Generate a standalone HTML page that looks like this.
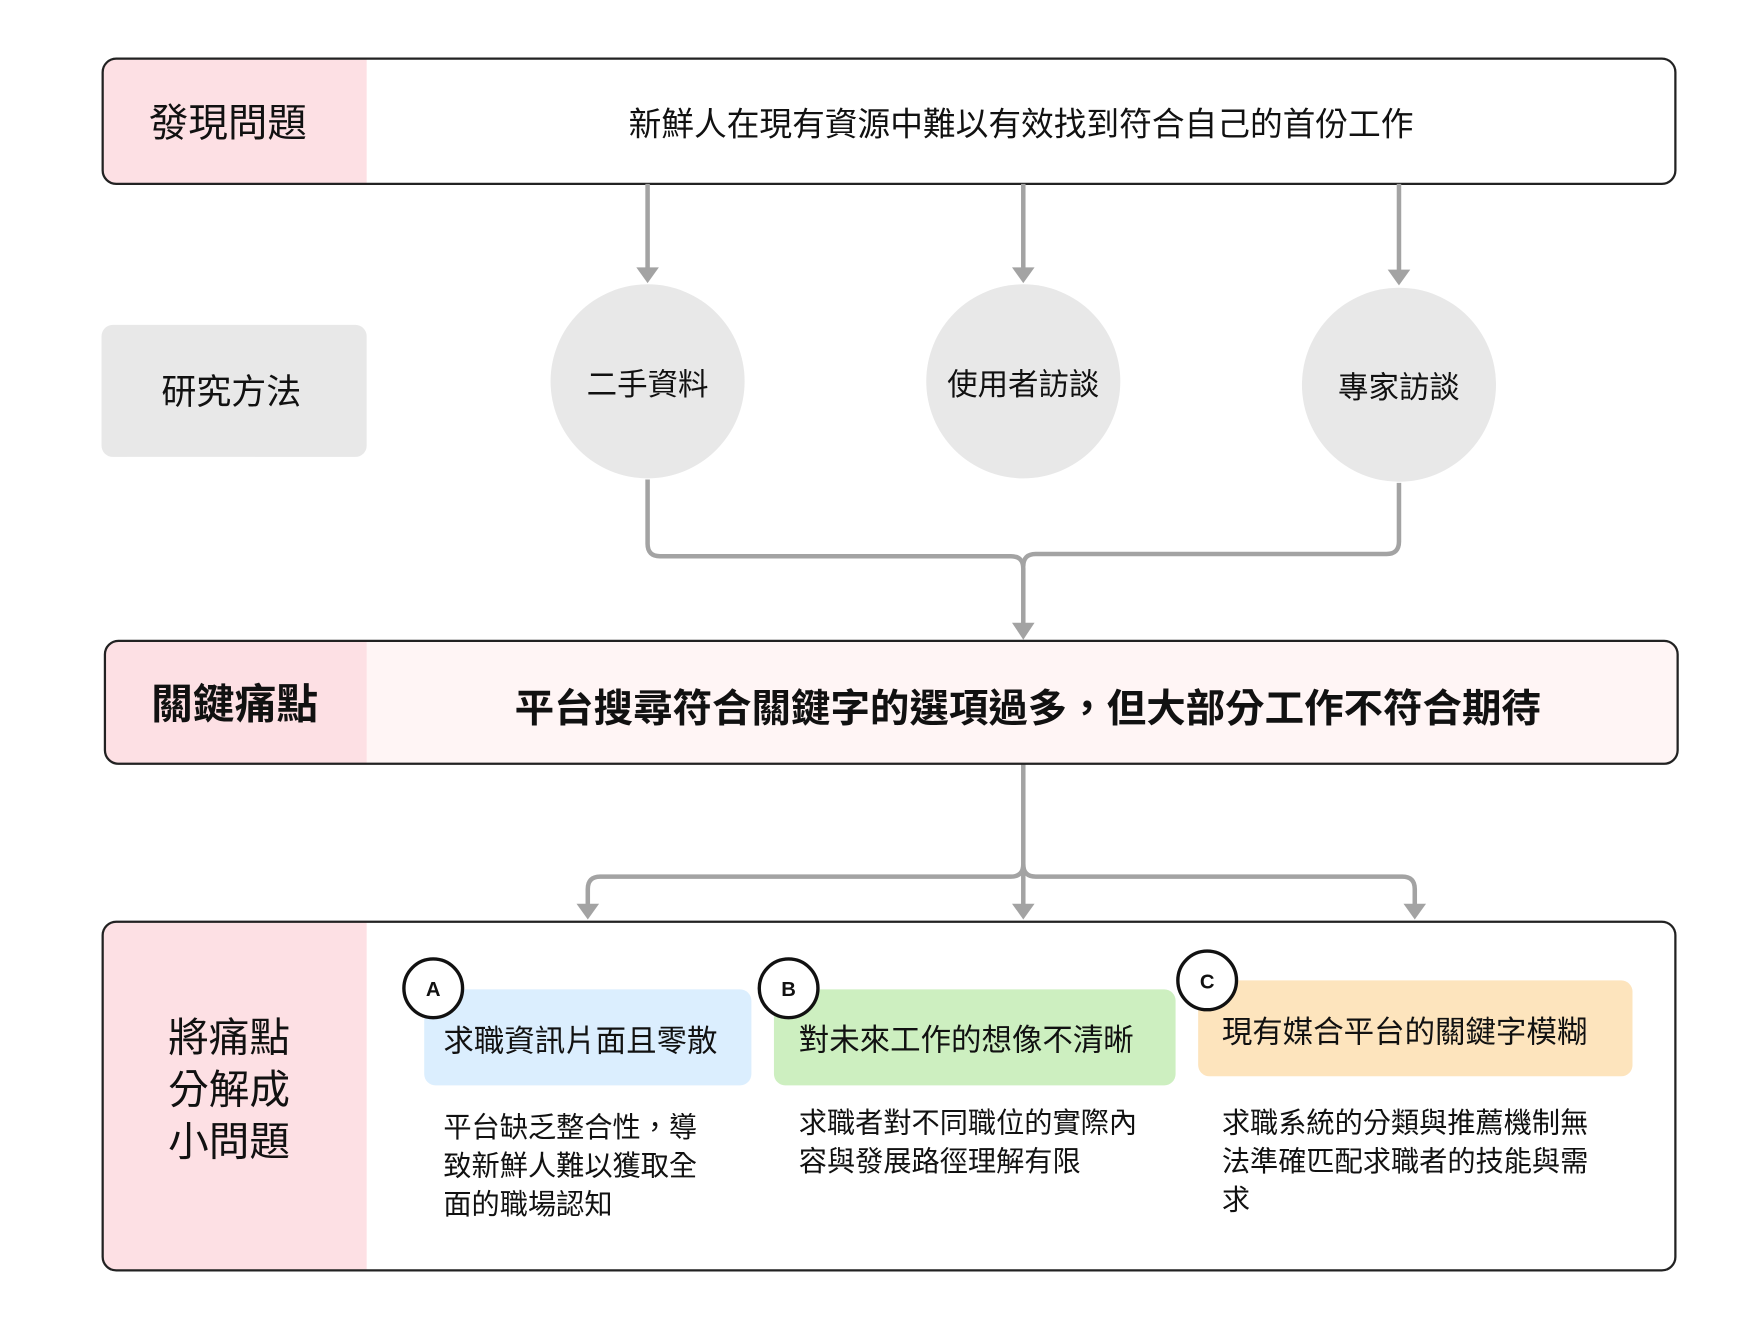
<!DOCTYPE html>
<html><head><meta charset="utf-8"><style>
html,body{margin:0;padding:0;background:#fff;}
svg{display:block;}
text{font-family:"Liberation Sans","Noto Sans CJK TC",sans-serif;fill:#111;}
</style></head><body>
<svg width="1760" height="1320" viewBox="0 0 1560 1170" xmlns="http://www.w3.org/2000/svg">
<rect width="1560" height="1170" fill="#fff"/>
<defs>
<clipPath id="c1"><rect x="91" y="52" width="1394" height="111" rx="12"/></clipPath>
<clipPath id="c2"><rect x="93" y="568" width="1394" height="109" rx="12"/></clipPath>
<clipPath id="c3"><rect x="91" y="817" width="1394" height="309" rx="12"/></clipPath>
</defs>
<!-- top box -->
<rect x="91" y="52" width="1394" height="111" rx="12" fill="#fff"/>
<rect x="91" y="52" width="234" height="111" fill="#fde0e4" clip-path="url(#c1)"/>
<rect x="91" y="52" width="1394" height="111" rx="12" fill="none" stroke="#222" stroke-width="2"/>
<text x="202" y="121" font-size="35" text-anchor="middle">發現問題</text>
<text x="905" y="120" font-size="29" text-anchor="middle">新鮮人在現有資源中難以有效找到符合自己的首份工作</text>

<!-- arrows down -->
<g stroke="#a3a3a3" stroke-width="4" fill="none">
<line x1="574" y1="163" x2="574" y2="240"/>
<line x1="907" y1="163" x2="907" y2="240"/>
<line x1="1240" y1="163" x2="1240" y2="242"/>
<path d="M574 425 V482 Q574 493 585 493 H896 Q907 493 907 504 V553"/>
<path d="M1240 428 V480 Q1240 491 1229 491 H918 Q907 491 907 502"/>
<path d="M907 677 V766 Q907 777 896 777 H532 Q521 777 521 788 V803"/>
<path d="M907 766 Q907 777 918 777 H1243 Q1254 777 1254 788 V803"/>
<line x1="907" y1="766" x2="907" y2="803"/>
</g>
<g fill="#a3a3a3">
<polygon points="564,237 584,237 574,251"/>
<polygon points="897,237 917,237 907,251"/>
<polygon points="1230,239 1250,239 1240,253"/>
<polygon points="897,552 917,552 907,567"/>
<polygon points="511,801 531,801 521,815"/>
<polygon points="897,801 917,801 907,815"/>
<polygon points="1244,801 1264,801 1254,815"/>
</g>

<!-- research -->
<rect x="90" y="288" width="235" height="117" rx="10" fill="#e8e8e8"/>
<text x="205" y="358" font-size="31" text-anchor="middle">研究方法</text>
<circle cx="574" cy="338" r="86" fill="#e8e8e8"/>
<circle cx="907" cy="338" r="86" fill="#e8e8e8"/>
<circle cx="1240" cy="341" r="86" fill="#e8e8e8"/>
<text x="574" y="350" font-size="27" text-anchor="middle">二手資料</text>
<text x="907" y="350" font-size="27" text-anchor="middle">使用者訪談</text>
<text x="1240" y="353" font-size="27" text-anchor="middle">專家訪談</text>

<!-- key pain -->
<rect x="93" y="568" width="1394" height="109" rx="12" fill="#fff5f5"/>
<rect x="93" y="568" width="232" height="109" fill="#fde0e4" clip-path="url(#c2)"/>
<rect x="93" y="568" width="1394" height="109" rx="12" fill="none" stroke="#222" stroke-width="2"/>
<text x="208" y="637" font-size="37" font-weight="bold" text-anchor="middle">關鍵痛點</text>
<text x="911" y="640" font-size="35" font-weight="bold" text-anchor="middle">平台搜尋符合關鍵字的選項過多，但大部分工作不符合期待</text>

<!-- bottom -->
<rect x="91" y="817" width="1394" height="309" rx="12" fill="#fff"/>
<rect x="91" y="817" width="234" height="309" fill="#fde0e4" clip-path="url(#c3)"/>
<rect x="91" y="817" width="1394" height="309" rx="12" fill="none" stroke="#222" stroke-width="2"/>
<text x="203" y="932" font-size="36" text-anchor="middle">將痛點</text>
<text x="203" y="978" font-size="36" text-anchor="middle">分解成</text>
<text x="203" y="1024" font-size="36" text-anchor="middle">小問題</text>

<rect x="376" y="877" width="290" height="85" rx="10" fill="#dbeefe"/>
<rect x="686" y="877" width="356" height="85" rx="10" fill="#cdefc0"/>
<rect x="1062" y="869" width="385" height="85" rx="10" fill="#fde4bd"/>
<text x="393" y="932" font-size="27">求職資訊片面且零散</text>
<text x="708" y="931" font-size="27">對未來工作的想像不清晰</text>
<text x="1083" y="924" font-size="27">現有媒合平台的關鍵字模糊</text>

<circle cx="384" cy="876" r="26" fill="#fff" stroke="#111" stroke-width="3"/>
<circle cx="699" cy="876" r="26" fill="#fff" stroke="#111" stroke-width="3"/>
<circle cx="1070" cy="869" r="26" fill="#fff" stroke="#111" stroke-width="3"/>
<text x="384" y="883" font-size="18" font-weight="bold" text-anchor="middle">A</text>
<text x="699" y="883" font-size="18" font-weight="bold" text-anchor="middle">B</text>
<text x="1070" y="876" font-size="18" font-weight="bold" text-anchor="middle">C</text>

<g font-size="25">
<text x="393" y="1008">平台缺乏整合性，導</text>
<text x="393" y="1042">致新鮮人難以獲取全</text>
<text x="393" y="1076">面的職場認知</text>
<text x="708" y="1004">求職者對不同職位的實際內</text>
<text x="708" y="1038">容與發展路徑理解有限</text>
<text x="1083" y="1004">求職系統的分類與推薦機制無</text>
<text x="1083" y="1038">法準確匹配求職者的技能與需</text>
<text x="1083" y="1072">求</text>
</g>
</svg>
</body></html>
